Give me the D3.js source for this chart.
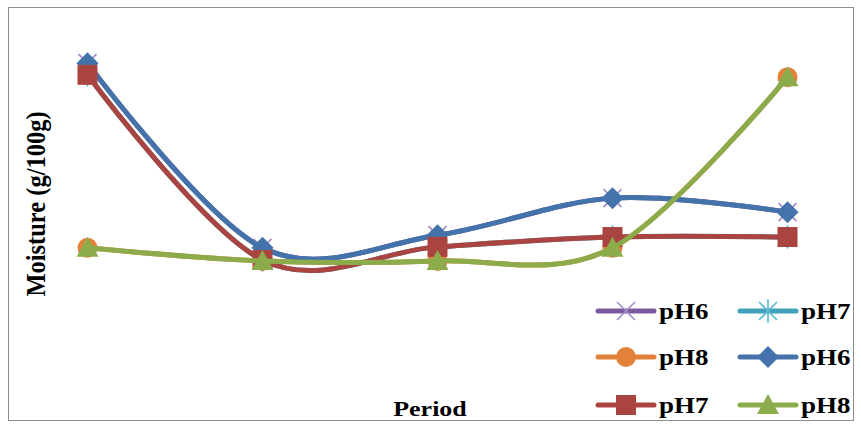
<!DOCTYPE html>
<html>
<head>
<meta charset="utf-8">
<script src="https://cdn.jsdelivr.net/npm/d3@7/dist/d3.min.js"></script>
<style>
  html, body { margin: 0; padding: 0; background: #fff; }
  svg { display: block; }
  text { font-family: "Liberation Serif", "Times New Roman", serif; font-weight: bold; fill: #000; }
</style>
</head>
<body>
<svg id="chart" width="861" height="427"></svg>
<script>
// Sampling periods (x axis has no tick labels)
const periods = ["P1", "P2", "P3", "P4", "P5"];

// Moisture content (g/100g) per period
const pH6a = [70.8, 31.4, 34.1, 42.0, 39.0];
const pH7a = [68.3, 28.8, 31.6, 33.7, 33.7];
const pH8a = [31.4, 28.6, 28.6, 31.4, 67.8];
const pH6b = [70.8, 31.4, 34.1, 42.0, 39.0];
const pH7b = [68.3, 28.8, 31.6, 33.7, 33.7];
const pH8b = [31.4, 28.6, 28.6, 31.4, 67.8];

const seriesNames = ["pH6", "pH7", "pH8", "pH6", "pH7", "pH8"];
const seriesValues = [pH6a, pH7a, pH8a, pH6b, pH7b, pH8b];
const seriesColors = ["#7a5a9c", "#3fa2ba", "#e2823a", "#4472aa", "#aa4441", "#8cac4b"];
const markerColors = ["#a08cc8", "#5ab8d0", "#e2823a", "#4472aa", "#aa4441", "#8cac4b"];
const markerTypes = ["x", "star", "circle", "diamond", "square", "triangle"];

const svg = d3.select("#chart");

// Outer chart frame
svg.append("rect")
  .attr("x", 8.5).attr("y", 7.5)
  .attr("width", 845).attr("height", 413)
  .attr("fill", "#fff")
  .attr("stroke", "#8c8c8c")
  .attr("stroke-width", 1);

const x = d3.scalePoint().domain(periods).range([87.5, 787.5]);
const y = d3.scaleLinear().domain([0, 80]).range([395, 20]);

const line = d3.line()
  .x((d, i) => x(periods[i]))
  .y(d => y(d))
  .curve(d3.curveCardinal.tension(0));

function drawMarker(g, type, color) {
  if (type === "x") {
    const s = 9;
    g.append("path").attr("d", `M${-s},${-s}L${s},${s}M${-s},${s}L${s},${-s}`)
      .attr("stroke", color).attr("stroke-width", 1.6).attr("fill", "none");
  } else if (type === "star") {
    const s = 9;
    g.append("path").attr("d", `M${-s},${-s}L${s},${s}M${-s},${s}L${s},${-s}M0,${-s * 1.3}L0,${s * 1.3}`)
      .attr("stroke", color).attr("stroke-width", 1.6).attr("fill", "none");
  } else if (type === "circle") {
    g.append("circle").attr("r", 10).attr("fill", color);
  } else if (type === "diamond") {
    const s = 11;
    g.append("path").attr("d", `M0,${-s}L${s},0L0,${s}L${-s},0Z`).attr("fill", color);
  } else if (type === "square") {
    g.append("rect").attr("x", -10).attr("y", -10).attr("width", 20).attr("height", 20).attr("fill", color);
  } else if (type === "triangle") {
    g.append("path").attr("d", "M0,-11L11,9L-11,9Z").attr("fill", color);
  }
}

// Series: line then markers, in series order
seriesValues.forEach((vals, si) => {
  const g = svg.append("g");
  g.append("path")
    .attr("d", line(vals))
    .attr("fill", "none")
    .attr("stroke", seriesColors[si])
    .attr("stroke-width", 5)
    .attr("stroke-linecap", "round");
  vals.forEach((v, i) => {
    const m = g.append("g").attr("transform", `translate(${x(periods[i])},${y(v)})`);
    drawMarker(m, markerTypes[si], markerColors[si]);
  });
});

// Axis titles
svg.append("text")
  .attr("transform", "translate(45,204) rotate(-90) scale(1,1.15)")
  .attr("text-anchor", "middle")
  .attr("font-size", 24.5)
  .text("Moisture (g/100g)");

svg.append("text")
  .attr("transform", "translate(430,416) scale(1.18,1)")
  .attr("text-anchor", "middle")
  .attr("font-size", 22)
  .text("Period");

// Legend: two columns, three rows
const legCols = [598, 740];
const legRows = [311, 357, 405];
seriesNames.forEach((name, si) => {
  const cx = legCols[si % 2];
  const cy = legRows[Math.floor(si / 2)];
  const g = svg.append("g");
  g.append("line")
    .attr("x1", cx).attr("x2", cx + 56)
    .attr("y1", cy).attr("y2", cy)
    .attr("stroke", seriesColors[si]).attr("stroke-width", 5)
    .attr("stroke-linecap", "round");
  const m = g.append("g").attr("transform", `translate(${cx + 28},${cy})`);
  drawMarker(m, markerTypes[si], markerColors[si]);
  g.append("text")
    .attr("transform", `translate(${cx + 61},${cy + 8}) scale(1.2,1)`)
    .attr("font-size", 22.5)
    .text(name);
});
</script>
</body>
</html>
